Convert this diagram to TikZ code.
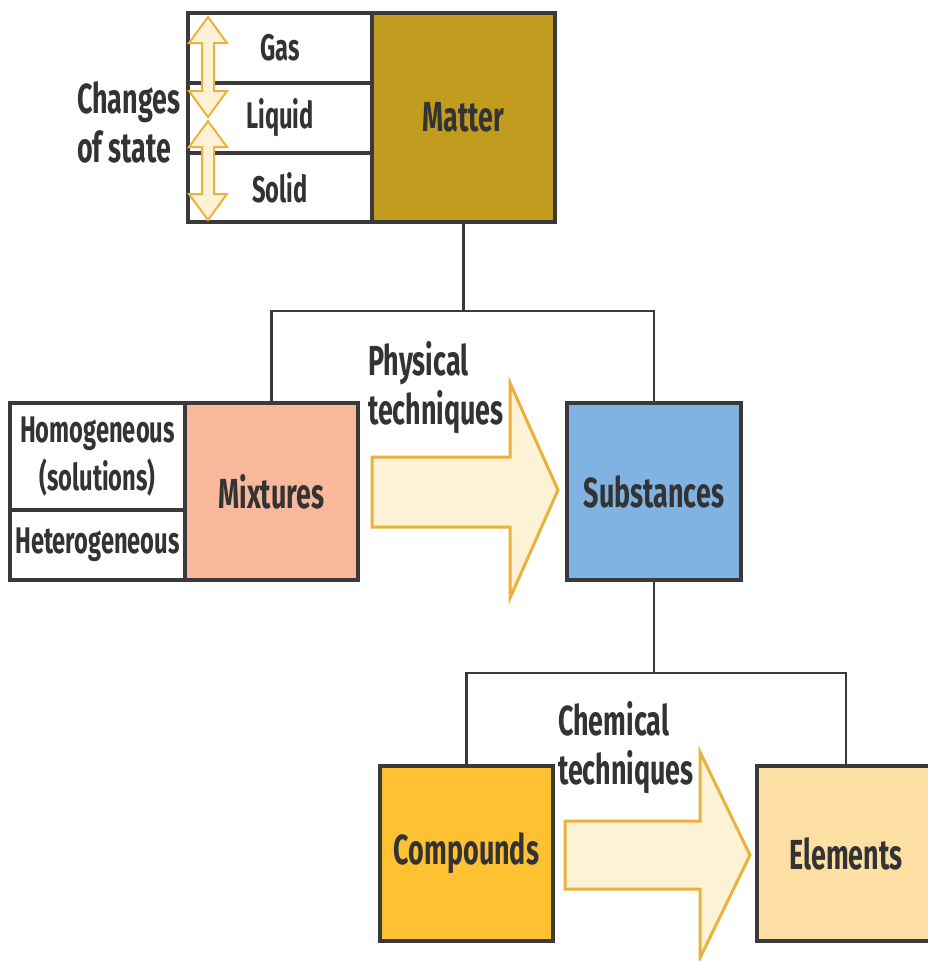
\documentclass[tikz,border=0pt]{standalone}
\usepackage{fontspec}
\setmainfont{Fira Sans}[FakeStretch=0.64]
\definecolor{txt}{HTML}{333333}
\definecolor{edge}{HTML}{3A3A3A}
\definecolor{mattercol}{HTML}{C29C1F}
\definecolor{mixcol}{HTML}{F9B79C}
\definecolor{subcol}{HTML}{80B3E2}
\definecolor{compcol}{HTML}{FDC132}
\definecolor{elemcol}{HTML}{FDDFA3}
\definecolor{arrowfill}{HTML}{FEF2D6}
\definecolor{arrowedge}{HTML}{EAB23A}
\begin{document}
\begin{tikzpicture}[x=1pt,y=-1pt,
  cell/.style={draw=edge, line width=3.5pt, inner sep=0pt, outer sep=0pt, text=txt,
    font=\bfseries\fontsize{42}{48}\selectfont, align=center},
  small/.style={cell, fill=white, font=\bfseries\fontsize{37}{48}\selectfont},
  label/.style={inner sep=0pt, text=txt, align=left, font=\bfseries\fontsize{42}{49}\selectfont},
  link/.style={draw=edge, line width=2.5pt},
  bigarrow/.style={fill=arrowfill, draw=arrowedge, line width=3pt, line join=miter},
  statearrow/.style={fill=arrowfill, draw=arrowedge, line width=2pt, line join=miter}]
\useasboundingbox (0,0) rectangle (928,961);
% top group
\node[small, minimum width=184, minimum height=70] (gas) at (280,48) {Gas};
\node[small, minimum width=184, minimum height=70] (liquid) at (280,118) {Liquid};
\node[small, minimum width=184, minimum height=69] (solid) at (280,187.5) {Solid};
\node[cell, fill=mattercol, minimum width=183, minimum height=209] (matter) at (463.5,117.5) {Matter};
\draw[statearrow] (208,17) -- (227,43) -- (214,43) -- (214,91) -- (227,91) -- (208,117)
  -- (189,91) -- (202,91) -- (202,43) -- (189,43) -- cycle;
\draw[statearrow] (208,121) -- (227,147) -- (214,147) -- (214,194) -- (227,194) -- (208,220)
  -- (189,194) -- (202,194) -- (202,147) -- (189,147) -- cycle;
\node[label, anchor=west] (changes) at (77,122) {Changes\\of state};
% middle group
\node[small, minimum width=175, minimum height=107] (homog) at (97.5,456.5) {Homogeneous\\(solutions)};
\node[small, minimum width=175, minimum height=70] (heterog) at (97.5,545) {Heterogeneous};
\node[cell, fill=mixcol, minimum width=173, minimum height=177] (mixtures) at (271.5,491.5) {Mixtures};
\node[cell, fill=subcol, minimum width=174, minimum height=177] (substances) at (654,491.5) {Substances};
\coordinate (j1) at (463.5,311);
\draw[link] (matter.south) -- (j1);
\draw[link] (mixtures.north) |- (j1) -| (substances.north);
\draw[bigarrow] (372,457) -- (510,457) -- (510,383) -- (558,490) -- (510,598) -- (510,527) -- (372,527) -- cycle;
\node[label, anchor=west] (phys) at (368,388) {Physical\\techniques};
% bottom group
\node[cell, fill=compcol, minimum width=173, minimum height=175] (compounds) at (466.5,853.5) {Compounds};
\node[cell, fill=elemcol, minimum width=178, minimum height=175] (elements) at (846,853.5) {Elements};
\coordinate (j2) at (654,673);
\draw[link] (substances.south) -- (j2);
\draw[link] (compounds.north) |- (j2) -| (elements.north);
\draw[bigarrow] (565,821) -- (700,821) -- (700,752) -- (750,855) -- (700,958) -- (700,889) -- (565,889) -- cycle;
\node[label, anchor=west] (chem) at (558,748) {Chemical\\techniques};
\end{tikzpicture}
\end{document}
